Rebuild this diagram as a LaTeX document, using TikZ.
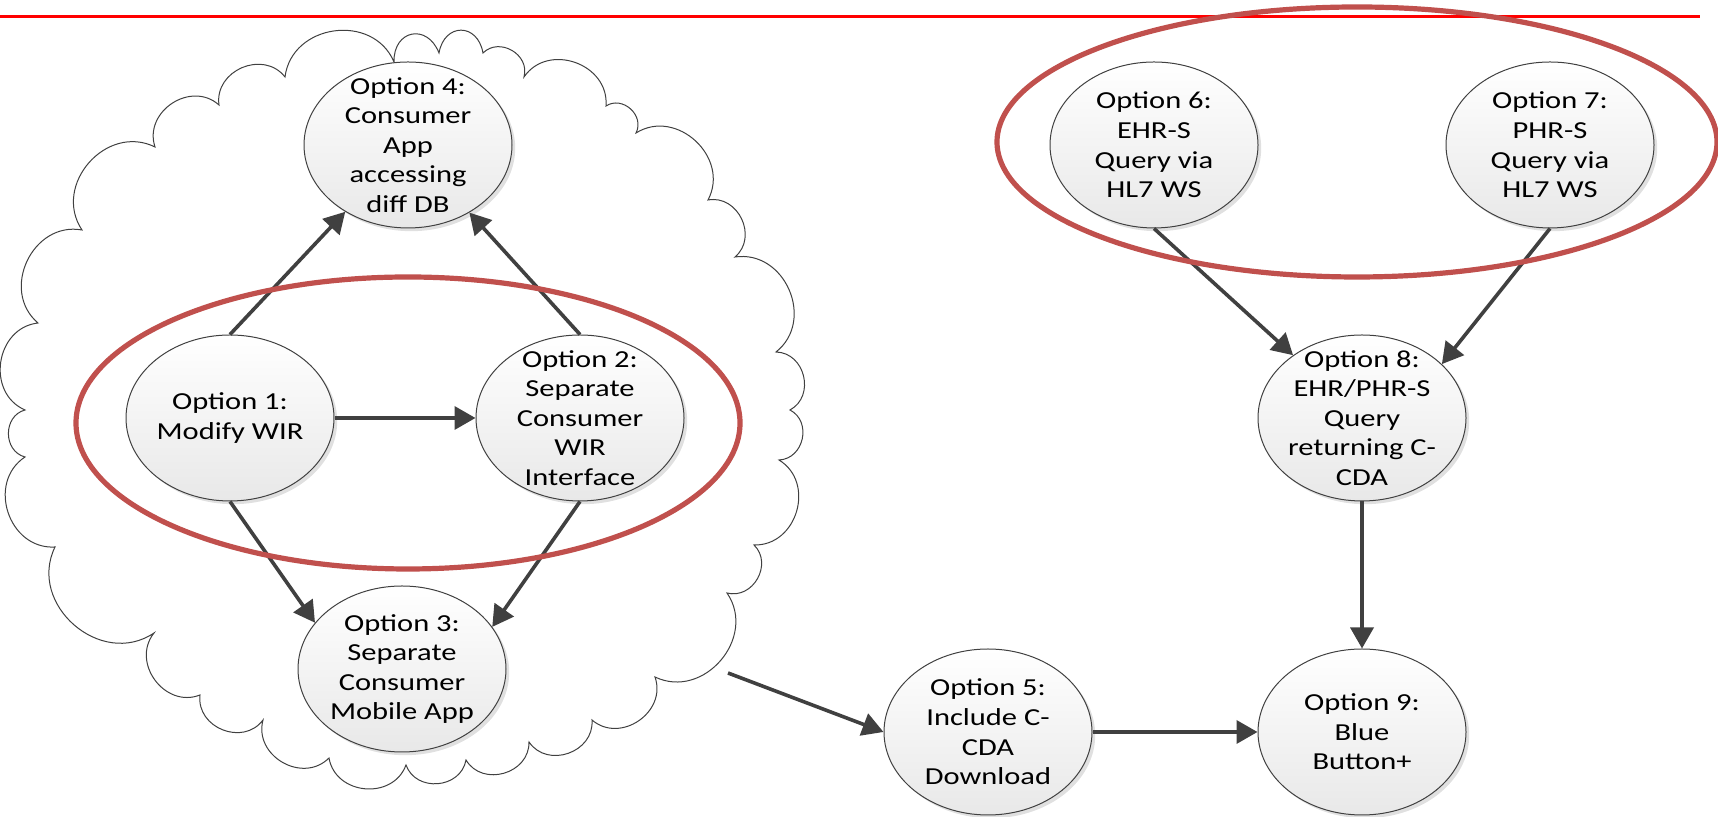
\documentclass[tikz,border=0pt]{standalone}
\usepackage{fontspec}
\newfontfamily\nodefont[FakeStretch=1.25]{Carlito}
\usetikzlibrary{shapes.geometric,arrows.meta,shadows}
\definecolor{arrgray}{HTML}{404040}
\definecolor{ovalred}{HTML}{C0504D}
\tikzset{
  opt/.style={ellipse, draw=arrgray, line width=0.5pt, minimum width=104pt, minimum height=83pt,
    inner sep=0pt, top color=white, bottom color=black!9,
    drop shadow={shadow xshift=1.6pt, shadow yshift=-1.6pt, opacity=0.35, fill=black!35}},
  txt/.style={align=center, inner sep=0pt, font=\nodefont\fontsize{12.2}{14.8}\selectfont},
  arr/.style={draw=arrgray, line width=1.8pt, -{Triangle[length=10.5pt,width=11.5pt]}},
  grp/.style={draw=ovalred, line width=2.6pt, ellipse, inner sep=0pt},
  cloudline/.style={draw=arrgray, line width=0.5pt},
  bump/.style={bend left=75, looseness=1.25}
}
\begin{document}
\begin{tikzpicture}[x=0.5pt, y=0.5pt]
\useasboundingbox (0,0) rectangle (1718,817);
% red top rule
\draw[red, line width=1.5pt] (0,800) -- (1700,800);
% cloud
\draw[cloudline] (55,270) to[bump] (25,360) to[bump] (25,407) to[bump] (38,494)
  to[bump] (82,587) to[bump] (155,670) to[bump] (219,712) to[bump] (285,740)
  to[bump] (394,755) to[bend left=80, looseness=1.8] (439,764) to[bend left=80, looseness=1.8] (483,764)
  to[bump] (524,740) to[bump] (606,711) to[bump] (636,684) to[bump] (708,617)
  to[bump] (735,560) to[bump] (776,465) to[bump] (790,407) to[bump] (779,357)
  to[bump] (754,272) to[bump] (727,224) to[bump] (655,140) to[bump] (592,97)
  to[bump] (529,75) to[bump] (466,57) to[bump] (406,52) to[bump] (329,59)
  to[bump] (263,97) to[bump] (200,122) to[bump] (154,184) to[bump] (55,270) -- cycle;
% option nodes
\node[opt] (o4) at (408,672) {};
\node[opt] (o1) at (230,399) {};
\node[opt] (o2) at (580,399) {};
\node[opt] (o3) at (402,148) {};
\node[opt] (o5) at (988,85) {};
\node[opt] (o9) at (1362,85) {};
\node[opt] (o8) at (1362,399) {};
\node[opt] (o6) at (1154,672) {};
\node[opt] (o7) at (1550,672) {};
\node[txt] (t4) at (o4) {Option 4:\\Consumer\\App\\accessing\\diff DB};
\node[txt] (t1) at (o1) {Option 1:\\Modify WIR};
\node[txt] (t2) at (o2) {Option 2:\\Separate\\Consumer\\WIR\\Interface};
\node[txt] (t3) at (o3) {Option 3:\\Separate\\Consumer\\Mobile App};
\node[txt] (t5) at (o5) {Option 5:\\Include C-\\CDA\\Download};
\node[txt] (t9) at (o9) {Option 9:\\Blue\\Button+};
\node[txt] (t8) at (o8) {Option 8:\\EHR/PHR-S\\Query\\returning C-\\CDA};
\node[txt] (t6) at (o6) {Option 6:\\EHR-S\\Query via\\HL7 WS};
\node[txt] (t7) at (o7) {Option 7:\\PHR-S\\Query via\\HL7 WS};
% connectors
\coordinate (s5) at (728,144);
\draw[arr] (o1.north) -- (o4);
\draw[arr] (o2.north) -- (o4);
\draw[arr] (o1.east) -- (o2.west);
\draw[arr] (o1.south) -- (o3.152);
\draw[arr] (o2.south) -- (o3.25);
\draw[arr] (s5) -- (o5.west);
\draw[arr] (o5.east) -- (o9.west);
\draw[arr] (o6.south) -- (o8);
\draw[arr] (o7.south) -- (o8.34);
\draw[arr] (o8.south) -- (o9.north);
% red group ovals
\node[grp, minimum width=332pt, minimum height=146pt] (g1) at (408,394) {};
\node[grp, minimum width=360pt, minimum height=135pt] (g2) at (1357,675) {};
\end{tikzpicture}
\end{document}
